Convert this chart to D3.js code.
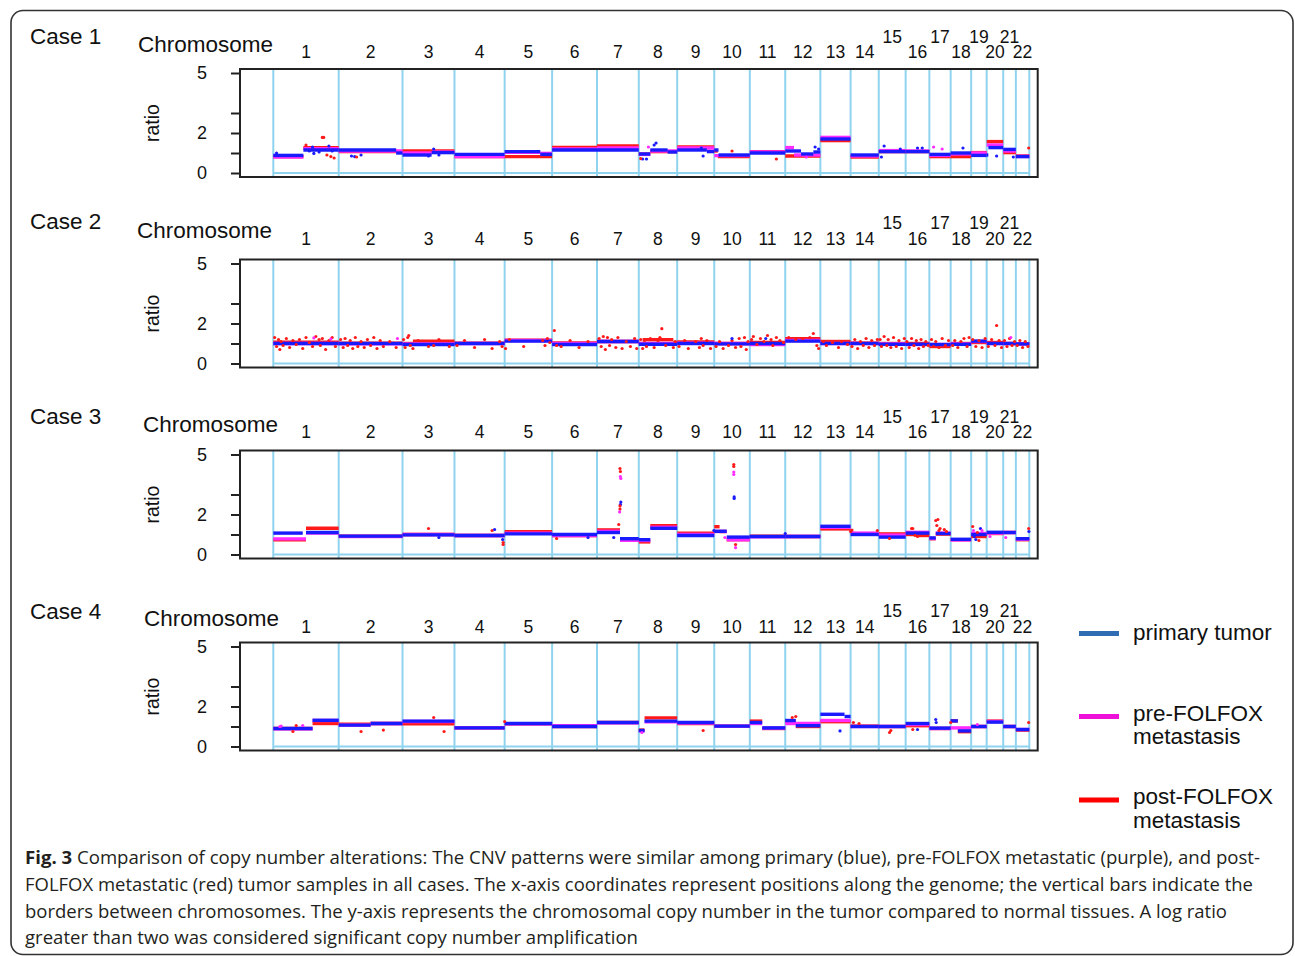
<!DOCTYPE html>
<html>
<head>
<meta charset="utf-8">
<script src="https://cdn.jsdelivr.net/npm/d3@7"></script>
<style>
  body { margin: 0; background: #fff; }
  text { font-family: "Liberation Sans", Arial, sans-serif; fill: #111; }
</style>
</head>
<body>
<svg id="fig" width="1295" height="956"></svg>
<script>
// chromosome sizes (Mb, hg19) - x axis runs along the genome
const chromLengths = [249.25, 243.20, 198.02, 191.15, 180.92, 171.12, 159.14, 146.36, 141.21, 135.53, 135.01,
                      133.85, 115.17, 107.35, 102.53, 90.35, 81.20, 78.08, 59.13, 63.03, 48.13, 51.30];
const chromLabels = d3.range(1, 23).map(String);
const raisedLabels = ["15", "17", "19", "21"];

const yTicks = [0, 1, 2, 3, 5];
const yTickLabels = ["0", "", "2", "", "5"];

const seriesNames = ["primary tumor", "pre-FOLFOX metastasis", "post-FOLFOX metastasis"];
const caseNames = ["Case 1", "Case 2", "Case 3", "Case 4"];

// segments: [chromosome, from (fraction of chrom), to, ratio]
const case1Primary = [[1,0,0.46,0.88],[1,0.46,1,1.15],[2,0,0.9,1.15],[2,0.9,1,1.0],[3,0,0.56,0.9],[3,0.56,1,1.02],
  [4,0,1,0.93],[5,0,0.75,1.07],[5,0.75,1,0.93],[6,0,1,1.15],[7,0,1,1.15],[8,0,0.3,0.95],[8,0.3,0.75,1.15],
  [8,0.75,1,1.05],[9,0,0.8,1.15],[9,0.8,1,1.07],[10,0,0.12,1.15],[10,0.12,1,0.9],[11,0,1,1.0],
  [12,0,0.45,1.1],[12,0.45,0.8,0.95],[12,0.8,1,1.05],[13,0,1,1.7],[14,0,1,0.9],[15,0,1,1.07],[16,0,1,1.07],
  [17,0,1,0.93],[18,0,1,1.0],[19,0,1,0.88],[20,0,0.1,0.9],[20,0.1,1,1.27],[21,0,1,1.18],[22,0,1,0.82]];
const case1Pre = [[1,0,0.46,0.8],[1,0.46,1,1.22],[2,0,1,1.1],[3,0,0.56,1.0],[3,0.56,1,1.05],[4,0,1,0.82],
  [5,0,0.75,1.03],[5,0.75,1,0.98],[6,0,1,1.2],[7,0,1,1.25],[8,0,0.3,0.93],[8,0.3,1,1.1],[9,0,1,1.25],
  [10,0,1,0.87],[11,0,1,1.05],[12,0,0.25,1.27],[12,0.25,1,0.9],[13,0,1,1.78],[14,0,1,0.85],[15,0,1,1.12],
  [16,0,1,1.1],[17,0,1,0.88],[18,0,1,0.95],[19,0,1,1.0],[20,0,1,1.4],[21,0,1,1.1],[22,0,1,0.83]];
const case1Post = [[1,0,0.46,0.82],[1,0.46,1,1.27],[2,0,1,1.07],[3,0,1,1.1],[4,0,1,0.82],[5,0,1,0.82],
  [6,0,1,1.28],[7,0,1,1.35],[8,0,0.3,0.95],[8,0.3,1,1.07],[9,0,1,1.3],[10,0,0.1,1.1],[10,0.1,1,0.82],
  [11,0,1,1.07],[12,0,1,0.85],[13,0,1,1.62],[14,0,1,0.8],[15,0,1,1.07],[16,0,1,1.07],[17,0,1,0.82],
  [18,0,1,0.82],[19,0,1,1.02],[20,0,1,1.57],[21,0,1,1.02],[22,0,1,0.85]];
// dots: [chromosome, fraction, ratio, series index]
const case1Dots = [[1,0.75,1.78,2],[1,0.77,1.78,2],[1,0.5,1.4,2],[1,0.88,0.82,2],[1,0.93,0.75,2],[1,0.82,0.9,2],
  [1,0.05,1.0,0],[1,0.6,1.3,0],[1,0.55,1.1,0],[1,0.62,0.98,0],[1,0.7,1.05,0],[1,0.85,1.35,0],[1,0.9,1.1,0],
  [2,0.2,0.85,0],[2,0.25,0.82,0],[2,0.35,0.9,0],[2,0.28,0.8,2],[3,0.5,0.85,0],[3,0.6,1.2,0],[3,0.7,0.9,0],
  [8,0.4,1.4,0],[8,0.45,1.5,0],[8,0.1,0.7,0],[8,0.2,0.7,0],[8,0.25,1.3,1],[8,0.05,0.72,2],[9,0.65,1.25,0],
  [9,0.7,0.85,0],[10,0.5,1.1,2],[11,0.75,0.7,2],[12,0.85,1.3,0],[12,0.95,1.2,0],[12,0.6,0.8,1],
  [15,0.2,1.35,0],[15,0.1,0.8,0],[15,0.8,1.2,0],[16,0.5,1.25,0],[16,0.7,1.25,0],[17,0.2,1.3,1],
  [17,0.6,1.2,1],[18,0.6,1.25,0],[20,0.6,0.85,0],[21,0.8,0.8,0],[22,0.95,1.25,2]];

const case2Primary = [[1,0,1,1.0],[2,0,1,1.0],[3,0,1,0.95],[4,0,1,1.0],[5,0,1,1.12],[6,0,1,0.95],[7,0,1,1.1],
  [8,0,1,0.96],[9,0,1,1.0],[10,0,1,0.98],[11,0,1,1.0],[12,0,1,1.12],[13,0,1,1.0],[14,0,1,1.0],[15,0,1,0.96],
  [16,0,1,0.96],[17,0,1,0.95],[18,0,1,0.96],[19,0,1,1.12],[20,0,1,1.0],[21,0,1,1.0],[22,0,1,0.98]];
const case2Pre = [[1,0,1,1.0],[2,0,1,0.98],[3,0,1,0.98],[4,0,1,1.0],[5,0,1,1.15],[6,0,1,1.0],[7,0,1,1.1],
  [8,0,1,1.0],[9,0,1,1.02],[10,0,1,1.0],[11,0,1,0.95],[12,0,1,1.15],[13,0,1,1.0],[14,0,1,1.0],[15,0,1,0.98],
  [16,0,1,0.95],[17,0,1,0.95],[18,0,1,0.98],[19,0,1,1.1],[20,0,1,1.0],[21,0,1,1.0],[22,0,1,0.98]];
const case2Post = [[1,0,1,1.07],[2,0,1,1.02],[3,0,0.2,1.0],[3,0.2,1,1.12],[4,0,1,1.02],[5,0,1,1.17],[6,0,1,1.03],
  [7,0,1,1.1],[8,0,0.1,1.0],[8,0.1,0.9,1.19],[8,0.9,1,1.05],[9,0,1,1.08],[10,0,1,1.0],[11,0,1,1.05],
  [12,0,1,1.24],[13,0,1,1.1],[14,0,1,1.02],[15,0,1,1.0],[16,0,1,1.0],[17,0,1,0.85],[18,0,1,1.0],[19,0,1,1.05],
  [20,0,1,1.05],[21,0,1,1.0],[22,0,1,0.98]];
const case2Dots = [
  [1,0.02,1.3,2],[1,0.05,0.85,2],[1,0.08,1.2,2],[1,0.1,0.7,2],[1,0.12,1.1,2],[1,0.15,0.9,2],[1,0.2,1.25,2],
  [1,0.25,0.8,2],[1,0.3,1.15,2],[1,0.35,0.95,2],[1,0.4,1.2,2],[1,0.45,0.75,2],[1,0.5,1.3,2],[1,0.55,1.05,2],
  [1,0.6,0.85,2],[1,0.65,1.35,2],[1,0.7,1.2,2],[1,0.72,0.9,2],[1,0.75,1.25,2],[1,0.8,0.7,2],[1,0.85,1.15,2],
  [1,0.9,1.3,2],[1,0.95,0.85,2],[1,0.62,1.28,1],[1,0.88,1.22,1],
  [2,0.03,1.2,2],[2,0.07,0.8,2],[2,0.1,1.25,2],[2,0.14,0.9,2],[2,0.18,1.15,2],[2,0.22,0.75,2],[2,0.26,1.3,2],
  [2,0.3,0.85,2],[2,0.35,1.1,2],[2,0.4,0.8,2],[2,0.45,1.2,2],[2,0.5,0.9,2],[2,0.55,1.3,2],[2,0.6,0.75,2],
  [2,0.65,1.15,2],[2,0.7,0.85,2],[2,0.8,1.1,2],[2,0.9,0.8,2],[2,0.92,1.25,1],
  [3,0.02,1.2,2],[3,0.05,0.8,2],[3,0.1,1.3,2],[3,0.12,1.4,2],[3,0.15,0.9,2],[3,0.2,0.75,2],[3,0.3,1.15,2],
  [3,0.5,0.85,2],[3,0.6,0.9,2],[3,0.7,1.2,2],[3,0.9,0.85,2],
  [4,0.05,0.9,2],[4,0.2,1.15,2],[4,0.4,0.8,2],[4,0.6,1.2,2],[4,0.75,0.75,2],[4,0.9,1.1,2],[4,0.95,0.85,2],
  [5,0.02,0.75,2],[5,0.1,1.2,2],[5,0.4,0.85,2],[5,0.8,1.15,2],[5,0.85,0.9,2],[5,0.9,1.25,2],[5,0.95,1.05,2],
  [6,0.05,1.65,2],[6,0.1,0.9,2],[6,0.2,0.85,2],[6,0.4,1.15,2],[6,0.6,0.8,2],[6,0.8,1.1,2],
  [7,0.05,1.25,2],[7,0.1,0.85,2],[7,0.15,1.35,2],[7,0.2,0.7,2],[7,0.25,1.3,2],[7,0.3,0.9,2],[7,0.35,1.2,2],
  [7,0.45,0.8,2],[7,0.5,1.3,2],[7,0.6,0.75,2],[7,0.7,1.1,2],[7,0.8,0.85,2],[7,0.9,1.25,2],[7,0.95,0.75,2],
  [8,0.05,1.2,2],[8,0.1,0.75,2],[8,0.15,1.15,2],[8,0.2,0.85,2],[8,0.3,1.25,2],[8,0.4,0.8,2],[8,0.5,1.15,2],
  [8,0.55,1.3,2],[8,0.6,1.74,2],[8,0.7,0.9,2],[8,0.8,1.2,2],[8,0.9,0.8,2],[8,0.95,1.1,2],
  [9,0.05,0.85,2],[9,0.2,1.15,2],[9,0.3,0.75,2],[9,0.5,1.1,2],[9,0.6,0.8,2],[9,0.65,1.25,2],[9,0.7,0.9,2],
  [9,0.8,1.15,2],[9,0.9,0.75,2],
  [10,0.05,0.85,2],[10,0.15,1.1,2],[10,0.25,0.75,2],[10,0.4,0.9,2],[10,0.5,1.15,2],[10,0.6,0.8,2],
  [10,0.7,1.25,2],[10,0.75,0.85,2],[10,0.85,1.3,2],[10,0.9,0.7,2],[10,0.95,1.1,2],[10,0.5,1.25,0],
  [11,0.05,1.2,2],[11,0.1,1.35,2],[11,0.2,0.95,2],[11,0.3,1.25,2],[11,0.4,1.1,2],[11,0.5,1.4,2],[11,0.6,1.2,2],
  [11,0.65,0.9,2],[11,0.75,1.3,2],[11,0.85,1.15,2],[11,0.95,1.05,2],[11,0.45,1.25,0],
  [12,0.1,1.3,2],[12,0.3,1.2,2],[12,0.5,1.25,2],[12,0.7,1.3,2],[12,0.8,1.5,2],[12,0.9,0.9,2],[12,0.95,0.75,2],
  [13,0.1,1.1,2],[13,0.2,0.9,2],[13,0.4,1.05,2],[13,0.6,0.8,2],[13,0.7,1.1,2],[13,0.9,0.95,2],
  [14,0.05,0.85,2],[14,0.15,1.2,2],[14,0.25,0.75,2],[14,0.35,1.1,2],[14,0.45,0.9,2],[14,0.55,1.25,2],
  [14,0.65,0.8,2],[14,0.75,1.15,2],[14,0.85,0.9,2],[14,0.95,1.2,2],
  [15,0.05,1.2,2],[15,0.1,0.85,2],[15,0.2,1.35,2],[15,0.3,0.9,2],[15,0.35,1.2,2],[15,0.45,0.8,2],
  [15,0.55,1.3,2],[15,0.65,0.85,2],[15,0.75,1.15,2],[15,0.85,0.75,2],[15,0.95,1.25,2],
  [16,0.05,1.1,2],[16,0.15,0.8,2],[16,0.25,1.25,2],[16,0.35,0.9,2],[16,0.45,1.15,2],[16,0.55,0.75,2],
  [16,0.65,1.2,2],[16,0.75,0.85,2],[16,0.85,1.1,2],[16,0.95,0.9,2],
  [17,0.1,1.2,2],[17,0.2,0.85,2],[17,0.3,1.1,2],[17,0.45,0.8,2],[17,0.6,1.25,2],[17,0.75,0.9,2],[17,0.9,1.15,2],
  [18,0.1,0.9,2],[18,0.2,1.15,2],[18,0.35,0.8,2],[18,0.5,1.1,2],[18,0.65,1.25,2],[18,0.8,0.85,2],[18,0.9,1.3,2],
  [19,0.1,1.2,2],[19,0.3,0.85,2],[19,0.5,1.15,2],[19,0.7,0.8,2],[19,0.9,1.25,2],
  [20,0.1,0.85,2],[20,0.3,1.2,2],[20,0.5,0.9,2],[20,0.6,1.9,2],[20,0.75,1.15,2],[20,0.9,0.8,2],
  [21,0.1,1.15,2],[21,0.3,0.85,2],[21,0.5,1.25,2],[21,0.7,0.9,2],[21,0.9,1.1,2],[21,0.6,1.3,1],
  [22,0.1,0.9,2],[22,0.3,1.15,2],[22,0.5,0.8,2],[22,0.7,1.1,2],[22,0.9,0.85,2]];

const case3Primary = [[1,0,0.45,1.07],[1,0.5,1,1.1],[2,0,1,0.92],[3,0,1,0.98],[4,0,1,0.95],[5,0,1,1.03],
  [6,0,1,1.0],[7,0,0.55,1.1],[7,0.55,1,0.79],[8,0,0.3,0.74],[8,0.3,1,1.31],[9,0,1,0.95],[10,0,0.35,1.16],
  [10,0.35,1,0.87],[11,0,1,0.9],[12,0,1,0.9],[13,0,1,1.41],[14,0,1,1.0],[15,0,1,0.87],[16,0,1,1.07],
  [17,0,0.3,0.83],[17,0.3,1,1.05],[18,0,1,0.76],[19,0,1,1.0],[20,0,1,1.11],[21,0,1,1.1],[22,0,1,0.79]];
const case3Pre = [[1,0,0.5,0.78],[1,0.5,1,1.07],[2,0,1,0.9],[3,0,1,1.0],[4,0,1,0.95],[5,0,1,1.07],[6,0,1,0.95],
  [7,0,0.55,1.16],[7,0.55,1,0.71],[8,0,0.3,0.7],[8,0.3,1,1.36],[9,0,1,1.0],[10,0,0.35,1.15],[10,0.35,1,0.74],
  [11,0,1,0.88],[12,0,1,0.9],[13,0,1,1.36],[14,0,1,1.07],[15,0,1,0.97],[16,0,1,1.11],[17,0,0.3,0.8],
  [17,0.3,1,1.07],[18,0,1,0.73],[19,0,1,1.05],[20,0,1,1.07],[21,0,1,1.1],[22,0,1,0.76]];
const case3Post = [[1,0,0.5,0.74],[1,0.5,1,1.31],[2,0,1,0.92],[3,0,1,1.0],[4,0,1,0.95],[5,0,1,1.14],[6,0,1,0.95],
  [7,0,0.55,1.23],[7,0.55,1,0.71],[8,0,0.3,0.63],[8,0.3,1,1.44],[9,0,1,1.07],[10,0,0.15,1.39],
  [10,0.15,0.35,1.15],[10,0.35,1,0.74],[11,0,1,0.92],[12,0,1,0.9],[13,0,1,1.28],[14,0,0.1,1.2],[14,0.1,1,1.02],
  [15,0,1,1.03],[16,0,0.5,1.0],[16,0.5,1,0.95],[17,0,0.3,0.79],[17,0.3,1,1.02],[18,0,1,0.74],[19,0,1,0.9],
  [20,0,1,1.05],[21,0,1,1.1],[22,0,1,0.74]];
const case3Dots = [[3,0.5,1.3,2],[3,0.7,0.85,0],[4,0.75,1.2,2],[4,0.8,1.25,0],[4,0.97,0.6,2],[4,0.97,0.5,2],
  [4,0.96,0.75,0],[6,0.1,0.8,2],[6,0.8,0.85,0],[7,0.55,4.3,2],[7,0.56,4.15,2],[7,0.56,3.9,1],[7,0.57,3.8,1],
  [7,0.57,2.62,0],[7,0.56,2.5,0],[7,0.55,2.43,2],[7,0.55,2.27,2],[7,0.54,2.13,1],[7,0.52,1.5,2],[7,0.4,0.85,0],
  [9,0.99,1.2,0],[10,0.3,0.85,1],[10,0.55,4.5,2],[10,0.55,4.4,2],[10,0.55,4.12,1],[10,0.55,4.0,1],
  [10,0.56,2.88,0],[10,0.56,2.8,0],[10,0.6,0.5,2],[10,0.6,0.34,1],[12,0.0,1.05,0],[14,0.0,1.15,2],
  [14,0.95,1.2,2],[15,0.4,0.8,2],[16,0.25,1.3,2],[16,0.3,1.3,2],[16,0.4,0.95,2],[16,0.5,0.9,2],
  [17,0.3,1.7,2],[17,0.4,1.75,2],[17,0.35,1.45,2],[17,0.5,1.3,2],[17,0.45,1.2,2],[17,0.7,1.25,2],
  [17,0.8,1.15,2],[19,0.1,1.4,2],[19,0.15,1.2,1],[19,0.2,0.9,0],[19,0.3,0.75,0],[19,0.4,1.1,2],[19,0.5,0.7,2],
  [19,0.6,1.3,0],[19,0.7,1.2,1],[20,0.2,0.9,1],[21,0.2,0.85,1],[22,0.95,1.3,2],[22,0.97,1.15,0]];

const case4Primary = [[1,0,0.6,0.9],[1,0.6,1,1.31],[2,0,0.5,1.07],[2,0.5,1,1.15],[3,0,1,1.27],[4,0,1,0.93],
  [5,0,1,1.15],[6,0,1,1.0],[7,0,1,1.2],[8,0,0.15,0.8],[8,0.15,1,1.27],[9,0,1,1.2],[10,0,1,1.02],
  [11,0,0.35,1.2],[11,0.35,1,0.93],[12,0,0.3,1.3],[12,0.3,1,1.04],[13,0,0.8,1.61],[13,0.8,1,1.5],[14,0,1,1.0],
  [15,0,1,1.0],[16,0,1,1.15],[17,0,1,0.92],[18,0,0.35,1.28],[18,0.35,1,0.78],[19,0,1,1.0],[20,0,1,1.22],
  [21,0,1,1.0],[22,0,1,0.85]];
const case4Pre = [[1,0,0.6,0.88],[1,0.6,1,1.3],[2,0,0.5,1.07],[2,0.5,1,1.15],[3,0,1,1.25],[4,0,1,0.93],
  [5,0,1,1.13],[6,0,1,1.04],[7,0,1,1.18],[8,0,0.15,0.78],[8,0.15,1,1.24],[9,0,1,1.17],[10,0,1,1.02],
  [11,0,0.35,1.15],[11,0.35,1,0.92],[12,0,1,1.15],[13,0,1,1.3],[14,0,1,1.0],[15,0,1,1.0],[16,0,1,1.1],
  [17,0,1,0.9],[18,0,1,0.93],[19,0,1,1.0],[20,0,1,1.25],[21,0,1,1.0],[22,0,1,0.85]];
const case4Post = [[1,0,0.6,0.9],[1,0.6,1,1.15],[2,0,0.5,1.12],[2,0.5,1,1.15],[3,0,1,1.13],[4,0,1,0.93],
  [5,0,1,1.13],[6,0,1,1.0],[7,0,1,1.2],[8,0,0.15,0.82],[8,0.15,1,1.43],[9,0,1,1.15],[10,0,1,1.02],
  [11,0,0.35,1.27],[11,0.35,1,0.9],[12,0,0.3,1.27],[12,0.3,1,1.0],[13,0,1,1.24],[14,0,1,1.02],[15,0,1,1.0],
  [16,0,1,1.04],[17,0,1,0.9],[18,0,0.35,1.28],[18,0.35,1,0.74],[19,0,1,1.0],[20,0,1,1.27],[21,0,1,1.0],
  [22,0,1,0.82]];
const case4Dots = [[1,0.1,1.0,1],[1,0.12,1.02,1],[1,0.3,0.75,2],[1,0.35,1.05,2],[1,0.45,1.05,1],[2,0.35,0.75,2],
  [2,0.7,0.82,2],[3,0.6,1.45,2],[3,0.8,0.75,2],[5,0.0,1.25,2],[8,0.08,0.7,1],[9,0.7,0.8,2],[12,0.3,1.5,2],
  [12,0.2,1.45,2],[13,0.65,0.78,0],[14,0.1,1.2,2],[14,0.3,1.15,2],[15,0.4,0.7,2],[15,0.45,0.8,2],
  [16,0.3,0.85,2],[16,0.5,0.85,0],[17,0.3,1.35,0],[17,0.32,1.2,0],[18,0.0,1.2,2],[19,0.4,1.1,1],[22,0.95,1.2,2]];

const captionLines = [
  "Comparison of copy number alterations: The CNV patterns were similar among primary (blue), pre-FOLFOX metastatic (purple), and post-",
  "FOLFOX metastatic (red) tumor samples in all cases. The x-axis coordinates represent positions along the genome; the vertical bars indicate the",
  "borders between chromosomes. The y-axis represents the chromosomal copy number in the tumor compared to normal tissues. A log ratio",
  "greater than two was considered significant copy number amplification"];

// ---------- layout ----------
const lineColors = ["#1a1aff", "#ff2bff", "#ff1a1a"];
const legendColors = ["#2f6cb3", "#ee10d8", "#ff0000"];
const panels = [
  {segs: [case1Primary, case1Pre, case1Post], dots: case1Dots, top: 69,    caseY: 44,  chromX: 138, chromY: 51.5},
  {segs: [case2Primary, case2Pre, case2Post], dots: case2Dots, top: 259.5, caseY: 229, chromX: 137, chromY: 238},
  {segs: [case3Primary, case3Pre, case3Post], dots: case3Dots, top: 450.5, caseY: 424, chromX: 143, chromY: 431.5},
  {segs: [case4Primary, case4Pre, case4Post], dots: case4Dots, top: 642.5, caseY: 618.5, chromX: 144, chromY: 626}
];
const PLOT_H = 108;

const svg = d3.select("#fig");

// outer frame
svg.append("rect")
  .attr("x", 11).attr("y", 10.5).attr("width", 1282).attr("height", 944)
  .attr("rx", 12).attr("fill", "none").attr("stroke", "#333").attr("stroke-width", 1.6);

const chromStart = [0, ...d3.cumsum(chromLengths)];
const genomeEnd = chromStart[chromStart.length - 1];
const x = d3.scaleLinear().domain([-126.9, 2913]).range([240, 1037.7]);
const gx = (c, f) => x(chromStart[c - 1] + f * chromLengths[c - 1]);

panels.forEach((p, i) => {
  const y = d3.scaleLinear().domain([-0.2, 5.2]).range([p.top + PLOT_H, p.top]);
  const g = svg.append("g");

  g.append("text").attr("x", 30).attr("y", p.caseY).attr("font-size", 22.5).text(caseNames[i]);
  g.append("text").attr("x", p.chromX).attr("y", p.chromY).attr("font-size", 22.5).text("Chromosome");
  g.append("text")
    .attr("transform", `translate(159,${p.top + PLOT_H / 2}) rotate(-90)`)
    .attr("text-anchor", "middle").attr("font-size", 19.5).text("ratio");

  // chromosome numbers above the plot
  g.selectAll(".chr")
    .data(chromLabels)
    .enter().append("text")
    .attr("x", (d, k) => x(chromStart[k] + chromLengths[k] / 2))
    .attr("y", d => raisedLabels.includes(d) ? p.chromY - 9 : p.chromY + 6.5)
    .attr("text-anchor", "middle").attr("font-size", 17.5)
    .text(d => d);

  // chromosome borders and zero line
  g.selectAll(".border")
    .data(chromStart)
    .enter().append("line")
    .attr("x1", d => x(d)).attr("x2", d => x(d))
    .attr("y1", p.top).attr("y2", p.top + PLOT_H)
    .attr("stroke", "#8fd3ef").attr("stroke-width", 2);
  g.append("line")
    .attr("x1", x(0)).attr("x2", x(genomeEnd))
    .attr("y1", y(0)).attr("y2", y(0))
    .attr("stroke", "#8fd3ef").attr("stroke-width", 2);

  // segments, red under magenta under blue
  [2, 1, 0].forEach(s => {
    g.selectAll(".seg" + s)
      .data(p.segs[s])
      .enter().append("line")
      .attr("x1", d => gx(d[0], d[1])).attr("x2", d => gx(d[0], d[2]))
      .attr("y1", d => y(d[3])).attr("y2", d => y(d[3]))
      .attr("stroke", lineColors[s]).attr("stroke-width", 3.4);
  });

  g.selectAll(".dot")
    .data(p.dots)
    .enter().append("circle")
    .attr("cx", d => gx(d[0], d[1])).attr("cy", d => y(d[2]))
    .attr("r", 1.6)
    .attr("fill", d => lineColors[d[3]]);

  // box and y axis
  g.append("rect")
    .attr("x", 240).attr("y", p.top).attr("width", 1037.7 - 240).attr("height", PLOT_H)
    .attr("fill", "none").attr("stroke", "#222").attr("stroke-width", 2);

  const axis = g.append("g")
    .attr("transform", "translate(240,0)")
    .call(d3.axisLeft(y).tickValues(yTicks).tickFormat((d, k) => yTickLabels[k])
      .tickSize(9).tickPadding(24).tickSizeOuter(0));
  axis.select(".domain").attr("stroke", "#222").attr("stroke-width", 2)
    .attr("d", `M0,${y(0)}V${y(5)}`);
  axis.selectAll(".tick line").attr("stroke", "#222").attr("stroke-width", 2);
  axis.selectAll(".tick text")
    .attr("font-size", 18).attr("font-family", '"Liberation Sans", Arial, sans-serif').attr("fill", "#111");
});

// legend
const legendY = [633.5, 716.5, 800];
const legend = svg.append("g");
legend.selectAll("line")
  .data(seriesNames)
  .enter().append("line")
  .attr("x1", 1079).attr("x2", 1119)
  .attr("y1", (d, i) => legendY[i]).attr("y2", (d, i) => legendY[i])
  .attr("stroke", (d, i) => legendColors[i]).attr("stroke-width", 5);
legend.selectAll("text")
  .data(seriesNames)
  .enter().append("text")
  .attr("x", 1133)
  .attr("y", (d, i) => legendY[i] + (i === 0 ? 6 : 4))
  .attr("font-size", 22.5)
  .each(function (d) {
    const parts = d === seriesNames[0] ? [d] : d.split(" ");
    parts.forEach((t, k) => {
      d3.select(this).append("tspan").attr("x", 1133).attr("dy", k === 0 ? 0 : 23.5).text(t);
    });
  });

// caption
const captionWidths = [1235, 1228, 1202, 613];
const captionBase = [864, 891, 917.5, 944];
captionLines.forEach((line, i) => {
  const t = svg.append("text")
    .attr("x", 25).attr("y", captionBase[i])
    .attr("font-size", 17.5)
    .style("font-family", '"Open Sans", "Noto Sans", sans-serif')
    .style("fill", "#231f20")
    .attr("textLength", captionWidths[i])
    .attr("lengthAdjust", "spacingAndGlyphs");
  if (i === 0) {
    t.append("tspan").attr("font-weight", "bold").text("Fig. 3 ");
  }
  t.append("tspan").text(line);
});
</script>
</body>
</html>
